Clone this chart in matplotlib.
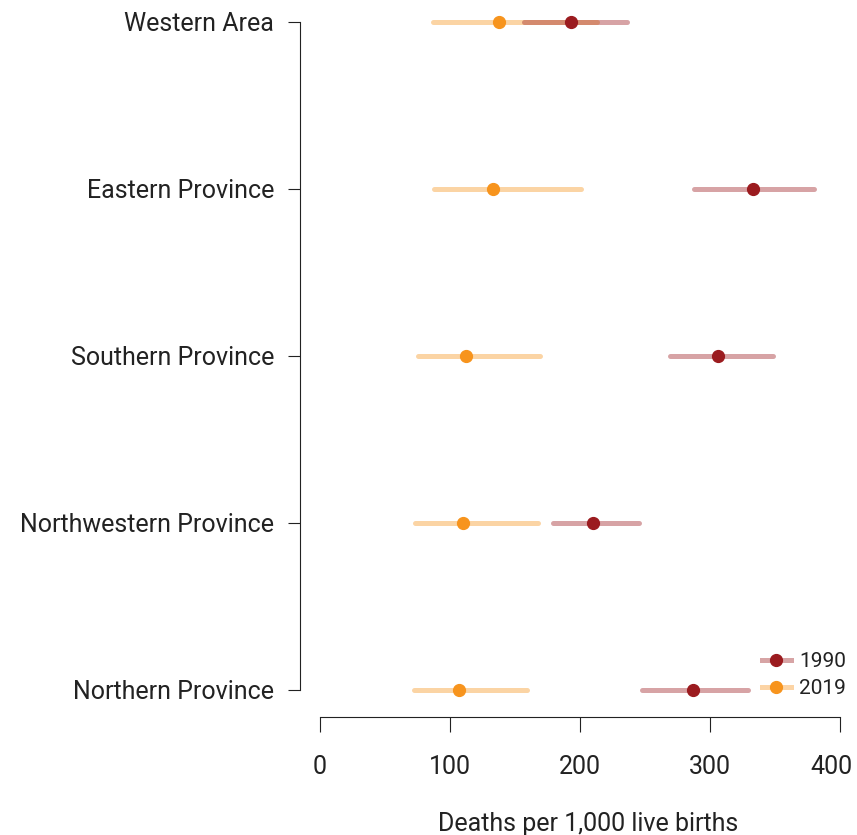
import matplotlib.pyplot as plt
import matplotlib.transforms as mtransforms

plt.rcParams['font.family'] = ['Roboto', 'DejaVu Sans']

regions = ['Northern Province', 'Northwestern Province', 'Southern Province',
           'Eastern Province', 'Western Area']

# 1990 estimates with uncertainty interval
est_1990 = [287, 210, 306, 333, 193]
lo_1990 = [248, 179, 269, 288, 157]
hi_1990 = [329, 245, 348, 380, 236]

# 2019 estimates with uncertainty interval
est_2019 = [107, 110, 112, 133, 138]
lo_2019 = [72, 73, 75, 88, 87]
hi_2019 = [159, 168, 169, 201, 213]

xticks = [0, 100, 200, 300, 400]

red = '#9B1B1F'
orange = '#F7941D'
txt = '#222222'

fig = plt.figure(figsize=(8.57, 8.35), dpi=100)
ax = fig.add_axes([0.350, 0.1413, 0.642, 0.8587])

ypos = list(range(1, len(regions) + 1))

for y, lo, hi in zip(ypos, lo_2019, hi_2019):
    ax.plot([lo, hi], [y, y], color=orange, alpha=0.4, lw=3.6,
            solid_capstyle='round', zorder=1)
for y, lo, hi in zip(ypos, lo_1990, hi_1990):
    ax.plot([lo, hi], [y, y], color=red, alpha=0.4, lw=3.6,
            solid_capstyle='round', zorder=1)

ax.plot(est_2019, ypos, 'o', color=orange, ms=8.5, zorder=3)
ax.plot(est_1990, ypos, 'o', color=red, ms=8.5, zorder=3)

# legend proxies
h1, = ax.plot([], [], color=(0.843, 0.643, 0.647), lw=3.6, marker='o', ms=8.5,
              markerfacecolor=red, markeredgecolor=red)
h2, = ax.plot([], [], color=(0.988, 0.831, 0.647), lw=3.6, marker='o', ms=8.5,
              markerfacecolor=orange, markeredgecolor=orange)
leg = ax.legend([h1, h2], ['1990', '2019'], loc='lower right', frameon=False,
                fontsize=15, handlelength=1.4, handletextpad=0.4,
                bbox_to_anchor=(1.027, 0.0), labelspacing=0.4)
for t in leg.get_texts():
    t.set_color(txt)

ax.set_xlim(-15.4, 407.7)
ax.set_ylim(0.838, 5.13)

ax.spines['top'].set_visible(False)
ax.spines['right'].set_visible(False)
ax.spines['left'].set_bounds(1, 5)
ax.spines['bottom'].set_bounds(0, 400)
for s in ('left', 'bottom'):
    ax.spines[s].set_linewidth(0.8)
    ax.spines[s].set_color('#222222')

ax.set_yticks(ypos)
ax.set_yticklabels(regions, fontsize=18)
ax.set_xticks(xticks)
ax.set_xticklabels([str(v) for v in xticks], fontsize=18)
ax.tick_params(axis='y', length=8.6, width=0.8, pad=10, color='#222222',
               labelcolor=txt)
ax.tick_params(axis='x', length=11, width=0.8, pad=16, color='#222222',
               labelcolor=txt)

# last tick label nudged inward so it stays on the page
last = ax.get_xticklabels()[-1]
last.set_transform(last.get_transform() +
                   mtransforms.ScaledTranslation(-9 / 100, 0, fig.dpi_scale_trans))

ax.set_xlabel('Deaths per 1,000 live births', fontsize=18,
              labelpad=24, color=txt)
ax.xaxis.label.set_x(0.523)

fig.savefig('out.png', dpi=100)
